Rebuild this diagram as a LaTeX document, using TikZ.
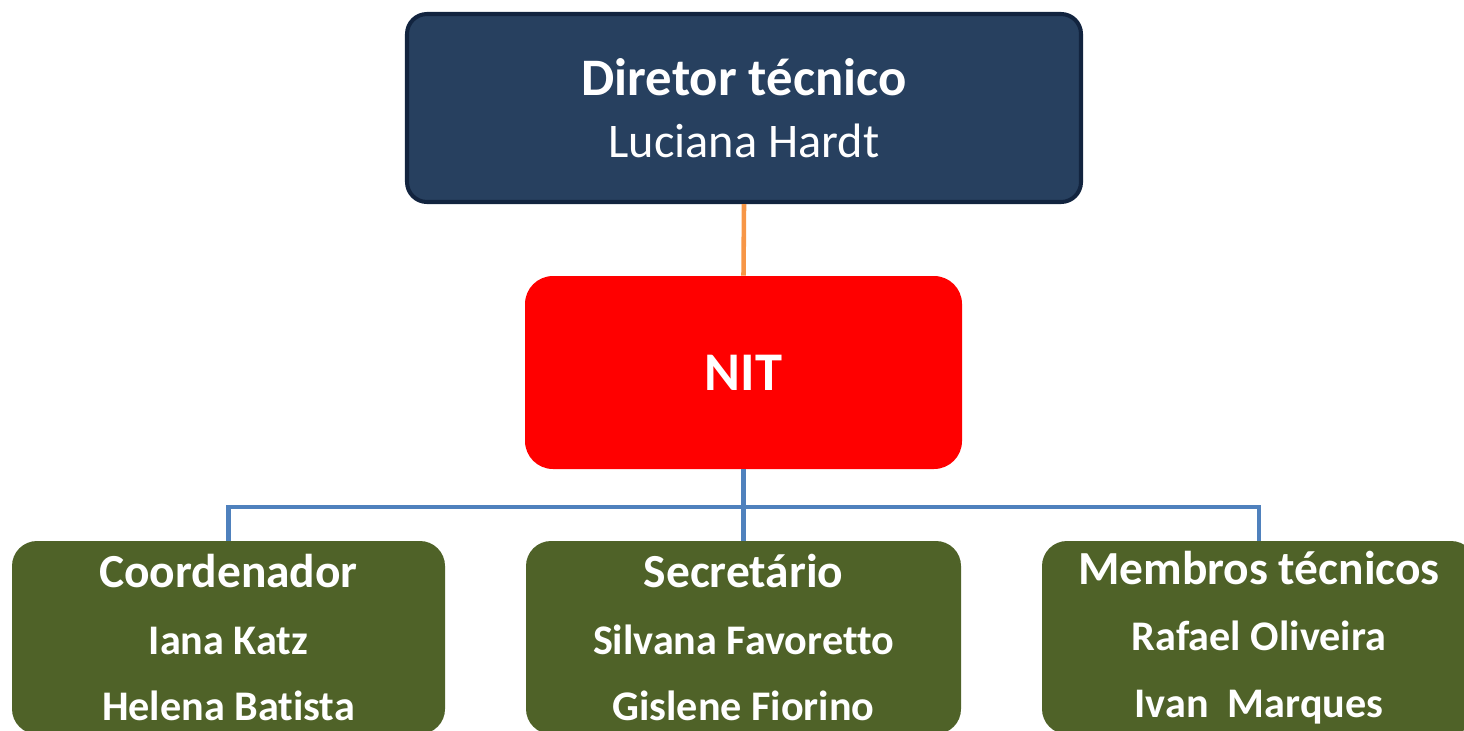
\documentclass[tikz,border=0pt]{standalone}
\usepackage{fontspec}
\setmainfont{Carlito}[Ligatures=NoCommon]
\definecolor{navyfill}{HTML}{27405F}
\definecolor{navyline}{HTML}{12243F}
\definecolor{olivefill}{HTML}{4F6228}
\definecolor{orangeline}{HTML}{F79646}
\definecolor{blueline}{HTML}{4F81BD}
\tikzset{
    topbox/.style={draw=navyline, line width=2.3pt, fill=navyfill, rounded corners=0.4cm,
        text=white, align=center, minimum width=13.48cm, minimum height=3.76cm,
        font=\fontsize{27.5}{35}\selectfont},
    nitbox/.style={fill=red, rounded corners=0.56cm, text=white, minimum width=8.74cm,
        minimum height=3.86cm, font=\bfseries\fontsize{31}{36}\selectfont},
    teambox/.style={fill=olivefill, rounded corners=0.5cm, text=white, align=center,
        minimum width=8.68cm, minimum height=3.86cm, font=\bfseries\fontsize{24}{38}\selectfont},
    orangelink/.style={draw=orangeline, line width=2.6pt},
    bluelink/.style={draw=blueline, line width=2.8pt}
}
\begin{document}
\begin{tikzpicture}
        \clip (0, 0) rectangle (29.28, -14.6);
        \node (dir) at (14.88, -2.16)[topbox]{{\bfseries\fontsize{30}{35}\selectfont Diretor técnico}\\Luciana Hardt};
        \node (nit) at (14.87, -7.45)[nitbox]{NIT};
        \node (coord) at (4.57, -12.75)[teambox, minimum width=8.66cm]{{\fontsize{27}{38}\selectfont Coordenador}\\Iana Katz\\Helena Batista};
        \node (sec) at (14.87, -12.75)[teambox, minimum width=8.7cm]{{\fontsize{27}{38}\selectfont Secretário}\\Silvana Favoretto\\Gislene Fiorino};
        \node (memb) at (25.18, -12.75)[teambox]{{\fontsize{27}{38}\selectfont Membros técnicos}\\Rafael Oliveira\\Ivan\ \ Marques};
        \coordinate (bus) at (14.87, -10.14);
        \draw[orangelink] (dir.south) -- (nit.north);
        \draw[bluelink] (nit.south) -- (sec.north);
        \draw[bluelink] (coord.north) |- (bus) -| (memb.north);
    \end{tikzpicture}
\end{document}
